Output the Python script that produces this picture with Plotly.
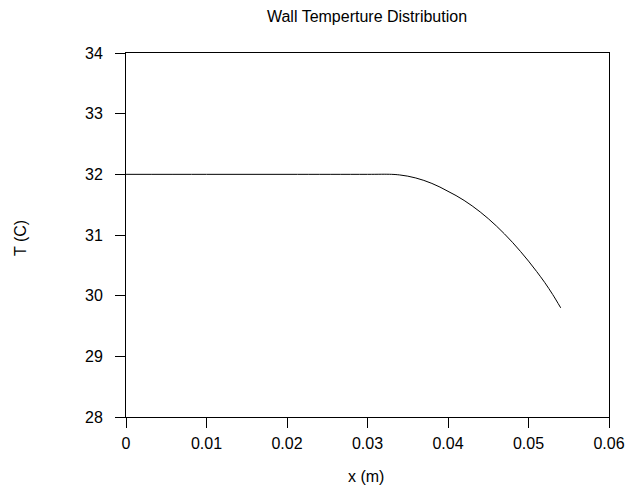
import plotly.graph_objects as go

x_m = [0.0, 0.010, 0.020, 0.030, 0.033, 0.034, 0.035, 0.036, 0.037, 0.038, 0.039, 0.040,
       0.041, 0.042, 0.043, 0.044, 0.045, 0.046, 0.047, 0.048, 0.049, 0.050,
       0.051, 0.052, 0.053, 0.054]
temp_c = [32.0, 32.0, 32.0, 32.0, 32.00, 31.99, 31.97, 31.94, 31.90, 31.85, 31.79, 31.72,
          31.65, 31.57, 31.48, 31.38, 31.27, 31.15, 31.02, 30.88, 30.73, 30.57,
          30.40, 30.22, 30.02, 29.80]

x_ticks = [0, 0.01, 0.02, 0.03, 0.04, 0.05, 0.06]
x_tick_labels = ["0", "0.01", "0.02", "0.03", "0.04", "0.05", "0.06"]
y_ticks = [28, 29, 30, 31, 32, 33, 34]

font = "Liberation Sans, Arial, sans-serif"
FS = 16

fig = go.Figure()
fig.add_trace(go.Scatter(x=x_m, y=temp_c, mode="lines",
                         line=dict(color="black", width=1, shape="spline"),
                         showlegend=False, hoverinfo="skip"))

axis_common = dict(showgrid=False, zeroline=False, showline=True, linecolor="black",
                   linewidth=1, mirror=True, ticks="outside", ticklen=10, tickwidth=1,
                   tickcolor="black", tickfont=dict(family=font, size=FS, color="black"),
                   automargin=False)

L, R, T, B = 126, 609, 53, 417

fig.update_layout(
    width=626, height=491,
    margin=dict(l=L, r=626 - R, t=T, b=491 - B, autoexpand=False),
    paper_bgcolor="white", plot_bgcolor="white",
    font=dict(family=font, size=FS, color="black"),
    xaxis=dict(range=[0, 0.06], tickvals=x_ticks, ticktext=x_tick_labels,
               ticklabelstandoff=2, **axis_common),
    yaxis=dict(range=[28, 34], tickvals=y_ticks, ticklabelstandoff=9, **axis_common),
    title=dict(text="Wall Temperture Distribution", x=367/626, xanchor="center",
               y=1 - 16/491, yanchor="middle", yref="container",
               font=dict(family=font, size=FS, color="black")),
    annotations=[
        dict(text="x (m)", xref="paper", yref="paper", x=(366 - L) / (R - L),
             y=-(476 - B) / (B - T),
             xanchor="center", yanchor="middle", showarrow=False,
             font=dict(family=font, size=FS, color="black")),
        dict(text="T (C)", xref="paper", yref="paper", x=(20 - L) / (R - L),
             y=(B - 238) / (B - T),
             xanchor="center", yanchor="middle", showarrow=False, textangle=-90,
             font=dict(family=font, size=FS, color="black")),
    ],
)

fig.write_html("out.html", config={"displayModeBar": False},
               post_script="document.body.style.margin='0';")
